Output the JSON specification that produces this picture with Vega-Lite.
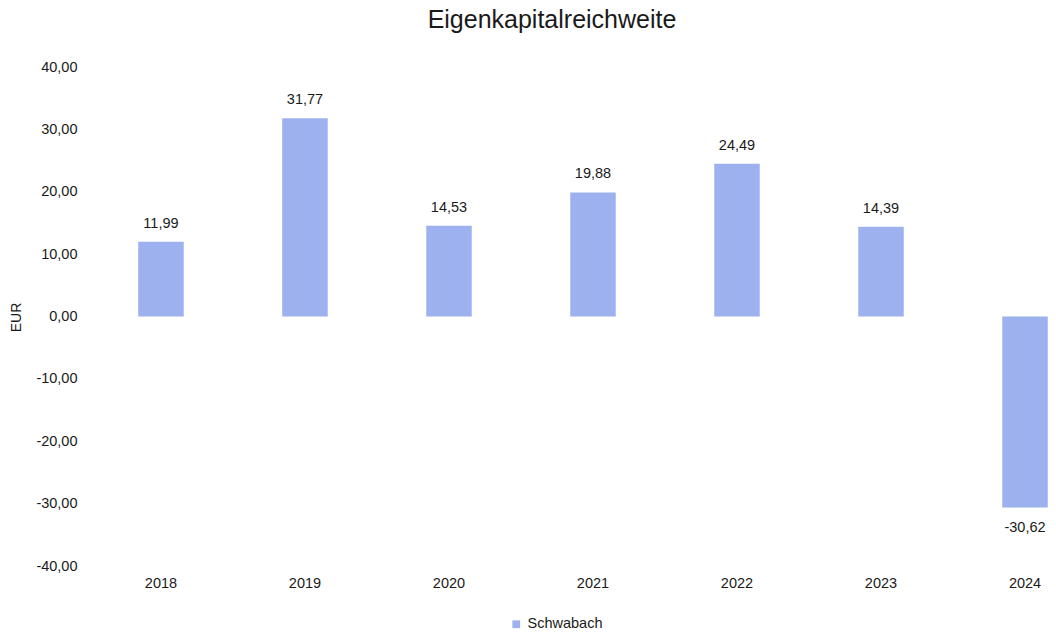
{
  "$schema": "https://vega.github.io/schema/vega-lite/v6.json",
  "autosize": {"type": "none"},
  "padding": {"left": 88, "top": 67, "right": 0, "bottom": 68},
  "width": 968,
  "height": 499,
  "background": "white",
  "config": {
    "view": {"stroke": null},
    "font": "Liberation Sans",
    "locale": {"number": {"decimal": ",", "thousands": ".", "grouping": [3], "currency": ["", " €"], "minus": "-"}}
  },
  "title": {
    "text": "Eigenkapitalreichweite",
    "fontSize": 25,
    "fontWeight": "normal",
    "color": "#1a1a1a",
    "font": "Liberation Sans",
    "anchor": "middle",
    "dx": -20,
    "offset": 26
  },
  "data": {
    "values": [
      {"Jahr": "2018", "Wert": 11.99, "Serie": "Schwabach"},
      {"Jahr": "2019", "Wert": 31.77, "Serie": "Schwabach"},
      {"Jahr": "2020", "Wert": 14.53, "Serie": "Schwabach"},
      {"Jahr": "2021", "Wert": 19.88, "Serie": "Schwabach"},
      {"Jahr": "2022", "Wert": 24.49, "Serie": "Schwabach"},
      {"Jahr": "2023", "Wert": 14.39, "Serie": "Schwabach"},
      {"Jahr": "2024", "Wert": -30.62, "Serie": "Schwabach"}
    ]
  },
  "encoding": {
    "x": {
      "field": "Jahr",
      "type": "nominal",
      "scale": {"paddingInner": 0.684, "paddingOuter": 0.203, "align": 0.859, "round": false},
      "axis": {
        "title": null,
        "labelAngle": 0,
        "labelFontSize": 14.5,
        "labelColor": "#1a1a1a",
        "labelPadding": 10,
        "ticks": false,
        "domain": false,
        "grid": false
      }
    },
    "y": {
      "field": "Wert",
      "type": "quantitative",
      "scale": {"domain": [-40, 40], "nice": false},
      "axis": {
        "title": "EUR",
        "titleFontSize": 14,
        "titleFontWeight": "normal",
        "titleColor": "#1a1a1a",
        "titleAngle": -90,
        "titleAlign": "center",
        "titleBaseline": "middle",
        "titleX": -72,
        "titleY": 250,
        "values": [-40, -30, -20, -10, 0, 10, 20, 30, 40],
        "format": ".2f",
        "labelFontSize": 14.5,
        "labelColor": "#1a1a1a",
        "labelPadding": 11,
        "ticks": false,
        "domain": false,
        "grid": false
      }
    }
  },
  "layer": [
    {
      "mark": {"type": "bar", "color": "#9eb1ef"},
      "encoding": {
        "color": {
          "field": "Serie",
          "type": "nominal",
          "scale": {"range": ["#9eb1ef"]},
          "legend": {
            "title": null,
            "orient": "none",
            "legendX": 421,
            "legendY": 550,
            "symbolType": "square",
            "symbolSize": 60,
            "labelFontSize": 14.5,
            "labelColor": "#1a1a1a",
            "labelOffset": 4
          }
        }
      }
    },
    {
      "transform": [{"filter": "datum.Wert >= 0"}],
      "mark": {"type": "text", "baseline": "alphabetic", "dy": -14, "fontSize": 14.5, "color": "#1a1a1a"},
      "encoding": {"text": {"field": "Wert", "type": "quantitative", "format": ".2f"}}
    },
    {
      "transform": [{"filter": "datum.Wert < 0"}],
      "mark": {"type": "text", "baseline": "alphabetic", "dy": 25, "fontSize": 14.5, "color": "#1a1a1a"},
      "encoding": {"text": {"field": "Wert", "type": "quantitative", "format": ".2f"}}
    }
  ]
}
